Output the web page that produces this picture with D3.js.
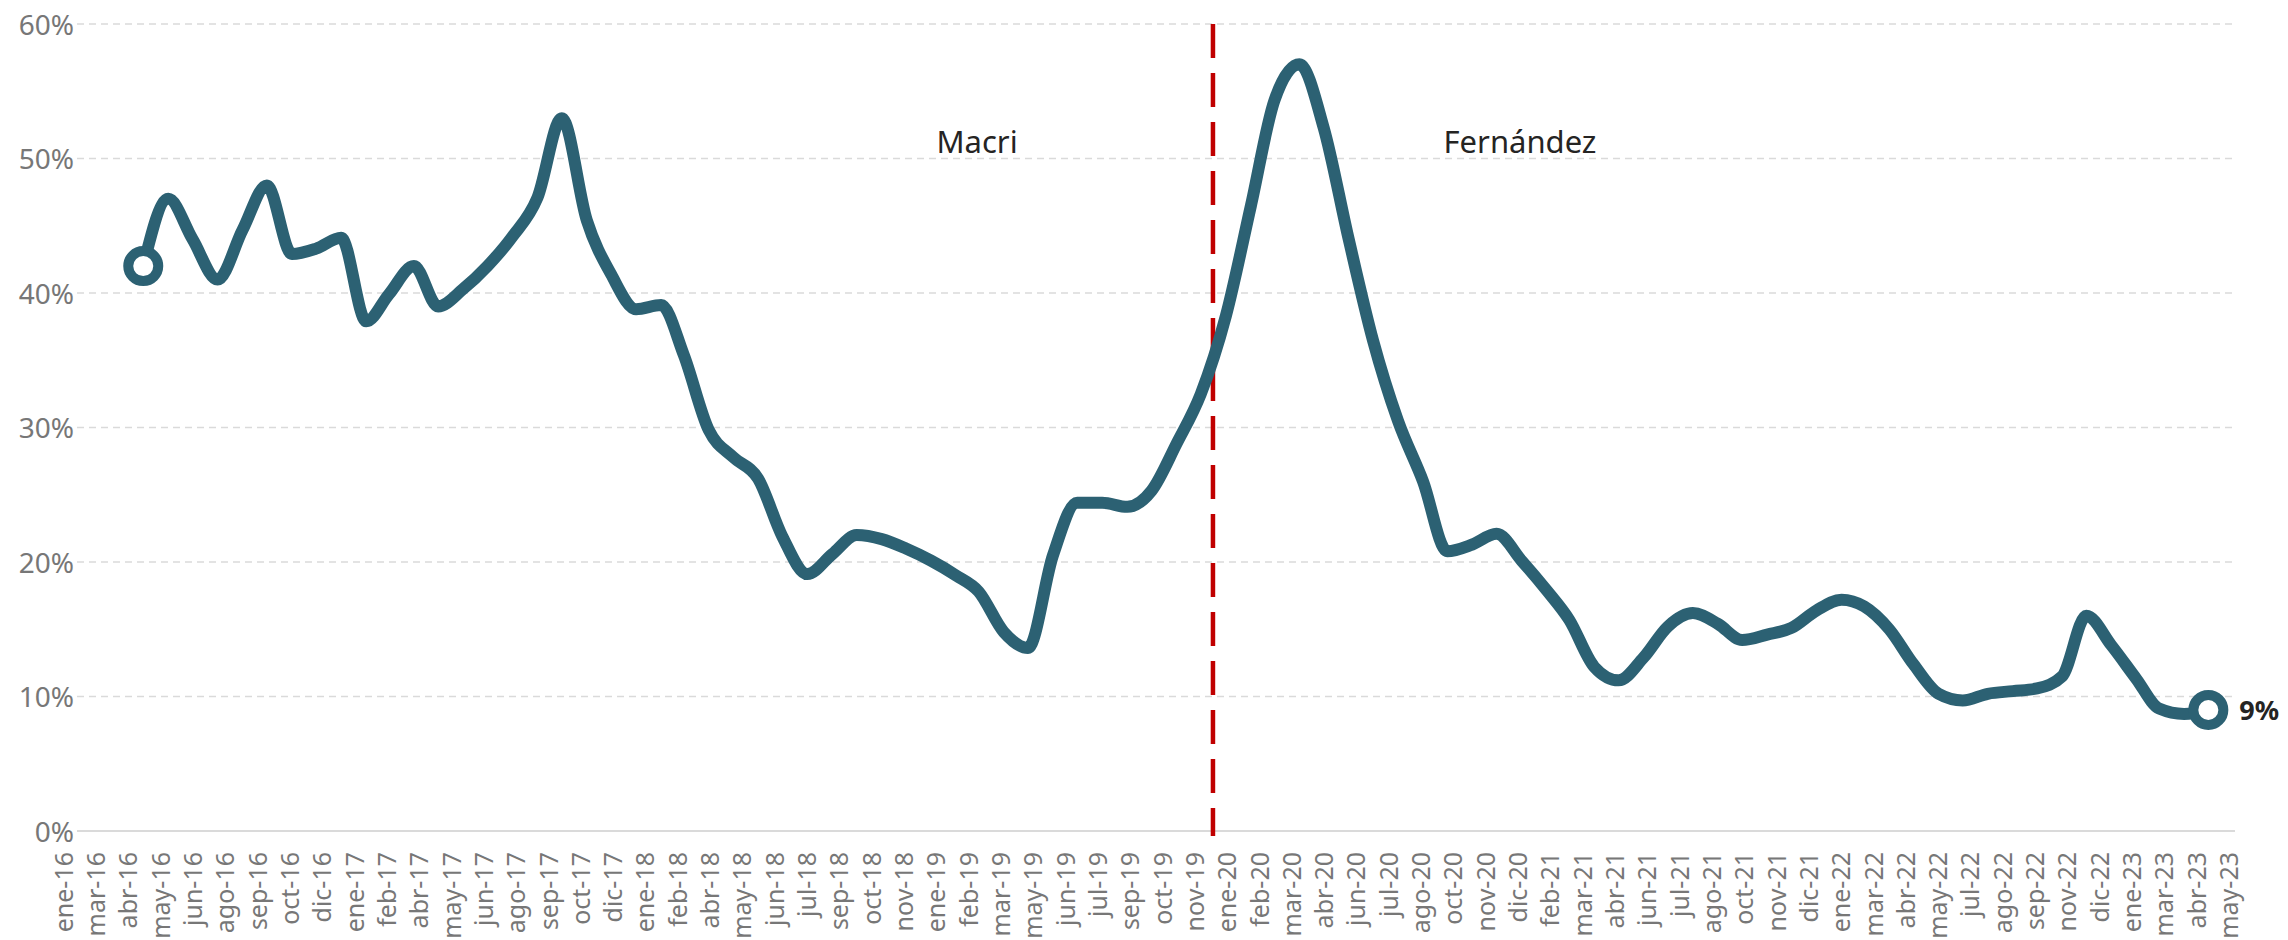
<!DOCTYPE html>
<html><head><meta charset="utf-8">
<script src="https://cdn.jsdelivr.net/npm/d3@7"></script>
<style>
html,body{margin:0;padding:0;background:#fff;}
svg{display:block;font-family:"Segoe UI","Noto Sans","Open Sans",sans-serif;}
</style></head><body>
<svg id="chart" width="2288" height="940"></svg>
<script>
// ---- data (monthly, end of month) ----
const months = [
 "2016-04","2016-05","2016-06","2016-07","2016-08","2016-09","2016-10","2016-11","2016-12",
 "2017-01","2017-02","2017-03","2017-04","2017-05","2017-06","2017-07","2017-08","2017-09","2017-10","2017-11","2017-12",
 "2018-01","2018-02","2018-03","2018-04","2018-05","2018-06","2018-07","2018-08","2018-09","2018-10","2018-11","2018-12",
 "2019-01","2019-02","2019-03","2019-04","2019-05","2019-06","2019-07","2019-08","2019-09","2019-10","2019-11","2019-12",
 "2020-01","2020-02","2020-03","2020-04","2020-05","2020-06","2020-07","2020-08","2020-09","2020-10","2020-11","2020-12",
 "2021-01","2021-02","2021-03","2021-04","2021-05","2021-06","2021-07","2021-08","2021-09","2021-10","2021-11","2021-12",
 "2022-01","2022-02","2022-03","2022-04","2022-05","2022-06","2022-07","2022-08","2022-09","2022-10","2022-11","2022-12",
 "2023-01","2023-02","2023-03","2023-04"
];
const values = [
 42.0, 47.0, 44.0, 41.0, 44.7, 48.0, 42.9, 43.3, 44.1,
 37.9, 39.9, 42.0, 39.0, 40.3, 42.0, 44.2, 47.1, 53.0, 45.4, 41.4, 38.8,
 39.1, 35.4, 29.8, 27.8, 26.2, 21.9, 19.1, 20.6, 22.0, 21.7, 21.0, 20.1,
 19.0, 17.8, 14.8, 13.6, 20.5, 24.4, 24.4, 24.1, 25.3, 28.8, 32.5, 38.3,
 46.5, 54.3, 57.0, 52.3, 44.0, 36.5, 30.5, 26.0, 20.8, 21.3, 22.1, 20.1,
 17.9, 15.7, 12.2, 11.2, 12.9, 15.2, 16.2, 15.4, 14.2, 14.6, 15.1, 16.4,
 17.2, 16.7, 15.0, 12.4, 10.2, 9.7, 10.2, 10.4, 10.6, 11.5, 16.0, 13.8,
 11.3, 9.1, 8.7, 9.0
];
// x-axis tick dates (labels shown as mmm-yy)
const tickDates = [
 "2016-01-22","2016-03-02","2016-04-11","2016-05-21","2016-06-30","2016-08-09","2016-09-18","2016-10-28","2016-12-07",
 "2017-01-16","2017-02-25","2017-04-06","2017-05-16","2017-06-25","2017-08-04","2017-09-13","2017-10-23","2017-12-02",
 "2018-01-11","2018-02-20","2018-04-01","2018-05-11","2018-06-20","2018-07-30","2018-09-08","2018-10-18","2018-11-27",
 "2019-01-06","2019-02-15","2019-03-27","2019-05-06","2019-06-15","2019-07-25","2019-09-03","2019-10-13","2019-11-22",
 "2020-01-01","2020-02-10","2020-03-21","2020-04-30","2020-06-09","2020-07-19","2020-08-28","2020-10-07","2020-11-16","2020-12-26",
 "2021-02-04","2021-03-16","2021-04-25","2021-06-04","2021-07-14","2021-08-23","2021-10-02","2021-11-11","2021-12-21",
 "2022-01-30","2022-03-11","2022-04-20","2022-05-30","2022-07-09","2022-08-18","2022-09-27","2022-11-06","2022-12-16",
 "2023-01-25","2023-03-06","2023-04-15","2023-05-25"
];
const monthAbbr = ["ene","feb","mar","abr","may","jun","jul","ago","sep","oct","nov","dic"];
const yTicks = [0, 0.1, 0.2, 0.3, 0.4, 0.5, 0.6];
const xDomain = ["2016-02-08", "2023-06-02"];
const periodChange = "2019-12-15";
const periodLabels = [
  {text: "Macri", date: "2019-02-26"},
  {text: "Fernández", date: "2020-12-29"}
];
const periodLabelValue = 0.504;

// ---- chart ----
const W = 2288, H = 940;
const mLeft = 77, mRight = 2235, mTop = 24, mBottom = 831;
const lineColor = "#2c6173";
const parseDay = d3.utcParse("%Y-%m-%d");
const parseMonth = d3.utcParse("%Y-%m");

const data = months.map((m, i) => ({
  date: d3.utcDay.offset(d3.utcMonth.offset(parseMonth(m), 1), -1),
  value: values[i] / 100
}));

const x = d3.scaleUtc().domain(xDomain.map(parseDay)).range([mLeft, mRight]);
const y = d3.scaleLinear().domain([0, 0.6]).range([mBottom, mTop]);

const svg = d3.select("#chart");

// gridlines
svg.append("g").selectAll("line").data(yTicks).join("line")
  .attr("x1", mLeft).attr("x2", mRight)
  .attr("y1", d => y(d)).attr("y2", d => y(d))
  .attr("stroke", "#dadada")
  .attr("stroke-width", d => d === 0 ? 2 : 1.6)
  .attr("stroke-dasharray", d => d === 0 ? null : "7,5");

// y axis
const yAxis = svg.append("g").attr("transform", `translate(${mLeft},0)`)
  .call(d3.axisLeft(y).tickValues(yTicks).tickFormat(d3.format(".0%")).tickSize(0).tickPadding(3));
yAxis.attr("font-family", null).attr("font-size", null);
yAxis.select(".domain").remove();
yAxis.selectAll("text").attr("font-size", 28).attr("fill", "#777").attr("dy", "0.36em");

// x axis
const xAxis = svg.append("g").attr("transform", `translate(0,${mBottom})`)
  .call(d3.axisBottom(x).tickValues(tickDates.map(parseDay))
    .tickFormat(d => monthAbbr[d.getUTCMonth()] + "-" + String(d.getUTCFullYear()).slice(2))
    .tickSize(0));
xAxis.attr("font-family", null).attr("font-size", null);
xAxis.select(".domain").remove();
xAxis.selectAll("text")
  .attr("transform", "rotate(-90)")
  .attr("x", -21).attr("y", 0).attr("dy", "0.36em")
  .attr("text-anchor", "end")
  .attr("font-size", 25).attr("fill", "#777");

// period divider
const xc = x(parseDay(periodChange));
svg.append("line")
  .attr("x1", xc).attr("x2", xc)
  .attr("y1", y(0.6)).attr("y2", y(0) + 5)
  .attr("stroke", "#c00000").attr("stroke-width", 4.5)
  .attr("stroke-dasharray", "34,15");

// period labels
svg.append("g").selectAll("text").data(periodLabels).join("text")
  .attr("x", d => x(parseDay(d.date)))
  .attr("y", y(periodLabelValue))
  .attr("text-anchor", "middle")
  .attr("font-size", 31).attr("fill", "#252423")
  .text(d => d.text);

// line
const line = d3.line().x(d => x(d.date)).y(d => y(d.value)).curve(d3.curveMonotoneX);
svg.append("path").datum(data)
  .attr("d", line)
  .attr("fill", "none").attr("stroke", lineColor)
  .attr("stroke-width", 12)
  .attr("stroke-linejoin", "round").attr("stroke-linecap", "round");

// end markers
const ends = [data[0], data[data.length - 1]];
svg.append("g").selectAll("circle").data(ends).join("circle")
  .attr("cx", d => x(d.date)).attr("cy", d => y(d.value))
  .attr("r", 15).attr("fill", "#fff")
  .attr("stroke", lineColor).attr("stroke-width", 10);

// last value label
const last = data[data.length - 1];
svg.append("text")
  .attr("x", x(last.date) + 31).attr("y", y(last.value)).attr("dy", "0.36em")
  .attr("font-size", 27).attr("font-weight", "bold").attr("fill", "#252423")
  .text(d3.format(".0%")(last.value));
</script>
</body></html>
